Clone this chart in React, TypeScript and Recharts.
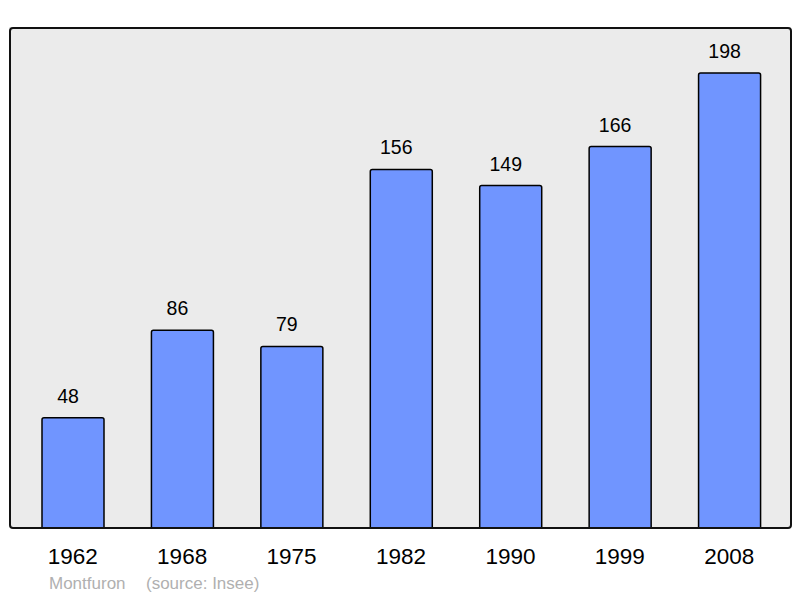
import React from 'react';
import { BarChart, Bar, XAxis, YAxis, CartesianGrid, LabelList } from 'recharts';

const years = ['1962', '1968', '1975', '1982', '1990', '1999', '2008'];
const population = [48, 86, 79, 156, 149, 166, 198];
const place = 'Montfuron';
const source = '(source: Insee)';

const data = years.map((y, i) => ({ year: y, pop: population[i] }));

const font = '"Liberation Sans", Arial, sans-serif';

export default function App() {
  return (
    <div style={{ position: 'absolute', left: 0, top: 0, width: 800, height: 598, background: '#fff', fontFamily: font }}>
      <BarChart
        width={800}
        height={598}
        data={data}
        margin={{ top: 27, right: 9, bottom: 0, left: 9 }}
      >
        <CartesianGrid fill="#ebebeb" horizontal={false} vertical={false} />
        <XAxis
          dataKey="year"
          height={70}
          axisLine={false}
          tickLine={false}
          tickSize={0}
          tickMargin={20}
          padding={{ left: 9, right: 7 }}
          tick={{ fontSize: 22.5, fill: '#000', fontFamily: font }}
          interval={0}
        />
        <YAxis hide domain={[0, 218]} />
        <Bar
          dataKey="pop"
          fill="#7095ff"
          stroke="#000"
          strokeWidth={1.5}
          barSize={62}
          radius={[2, 2, 0, 0]}
          isAnimationActive={false}
        >
          <LabelList
            dataKey="pop"
            position="top"
            offset={15}
            dx={-5}
            style={{ fontSize: 19.5, fill: '#000', fontFamily: font }}
          />
        </Bar>
      </BarChart>
      <div
        style={{
          position: 'absolute',
          left: 9,
          top: 27,
          width: 783,
          height: 502,
          boxSizing: 'border-box',
          border: '2px solid #111',
          borderRadius: 4,
          pointerEvents: 'none',
        }}
      />
      <div style={{ position: 'absolute', left: 49, top: 574, fontSize: 17, color: '#b0b0b0', whiteSpace: 'pre', lineHeight: '20px' }}>
        <span>{place}</span>
        <span style={{ position: 'absolute', left: 97 }}>{source}</span>
      </div>
    </div>
  );
}
